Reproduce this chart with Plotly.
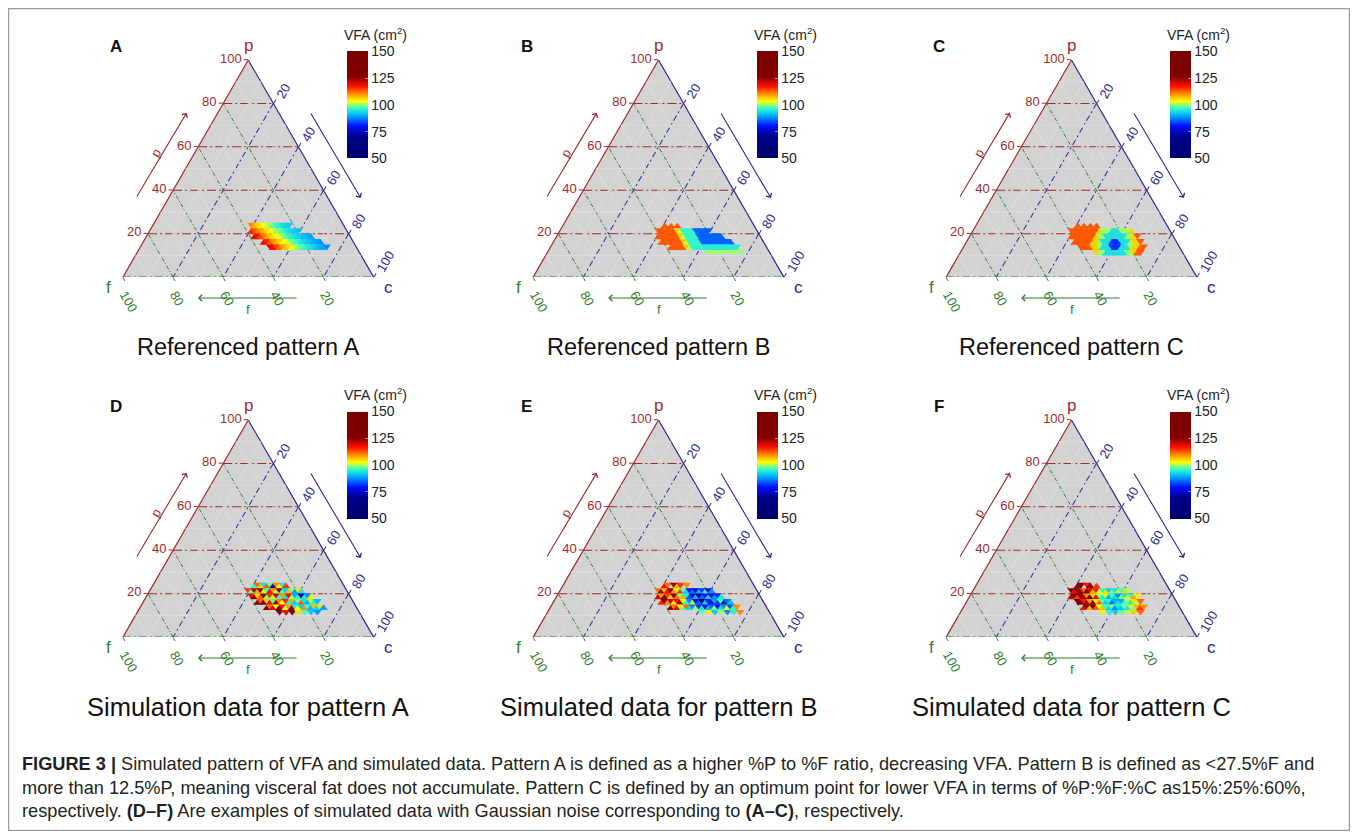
import plotly.graph_objects as go

# page geometry (the html body adds an 8px margin, so figure pixel = screen pixel - 8)
OFF = 8
FW, FH = 1350, 831

PANEL_LETTERS = ["A", "B", "C", "D", "E", "F"]
PANEL_TITLES = ["Referenced pattern A", "Referenced pattern B", "Referenced pattern C",
                "Simulation data for pattern A", "Simulated data for pattern B",
                "Simulated data for pattern C"]
AXIS_TICKS = [20, 40, 60, 80, 100]
CBAR_TICKS = [50, 75, 100, 125, 150]
VFA_RANGE = [50, 150]

# VFA of each 2.5% triangular cell: row index (p band) -> (first column, values left to right)
ROWS_A = {
    9: (1, [110, 108, 106, 104, 103, 101, 100, 98, 96, 95, 94, 93, 92]),
    8: (1, [116, 113, 111, 109, 107, 105, 104, 102, 100, 99, 97, 95, 94, 93, 92, 91]),
    7: (2, [120, 117, 114, 111, 109, 107, 105, 103, 102, 100, 98, 96, 95, 94, 93, 92, 91, 90, 89]),
    6: (5, [119, 116, 113, 110, 108, 106, 104, 103, 101, 99, 97, 96, 94, 93, 92, 91, 90, 89, 88]),
    5: (7, [120, 118, 115, 112, 109, 107, 105, 103, 101, 99, 98, 96, 95, 94, 93, 91, 90, 89, 88]),
}
ROWS_B = {
    9: (2, [113, None, 113, None, 113]),
    8: (0, [113, 113, 113, 113, 113, 113, 106, 101, 96, 96, 96, 96, 85, 85, 85, 85, 85]),
    7: (0, [113, 113, 113, 113, 113, 113, 113, 106, 101, 96, 96, 96, 96, 85, 85, 85, 85, 85, 85, 85, 85]),
    6: (1, [113, 113, 113, 113, 113, 113, 113, 106, 101, 96, 96, 96, 96, 85, 85, 85, 85, 85, 85, 85, 85, 85, 85]),
    5: (4, [113, 113, 113, 113, 113, 106, 101, 96, 96, 96, 96, 95, 95, 95, 95, 95, 95, 95, 95, 95, 95, 95]),
    4: (16, [100, None, 100, None, 100, None, 100, None, 100, None, 100]),
}
ROWS_C = {
    9: (2, [113, None, 113, None, 113, None, 113]),
    8: (0, [113, 113, 113, 113, 113, 113, 113, 113, 113, 106, 100, 100, 100, 94, 94, 94, 100, 100, 100, 106]),
    7: (0, [113, 113, 113, 113, 113, 113, 113, 113, 106, 100, 100, 94, 94, 94, 94, 94, 94, 94, 100, 100, 106, 113]),
    6: (1, [113, 113, 113, 113, 113, 113, 106, 106, 100, 94, 94, 94, 82, 82, 82, 94, 94, 94, 100, 106, 106, 113]),
    5: (3, [113, 113, 113, 113, 106, 106, 100, 94, 94, 94, 82, 82, 82, 94, 94, 94, 100, 106, 106, 113, 113]),
    4: (8, [106, 100, 100, 94, 94, 94, 94, 94, 94, 94, 100, 100, 106, 113, 113]),
}
ROWS_D = {
    9: (1, [None, 96, 112, 106, 94, 113, 98, 72, 110, 104, 95, 115, None]),
    8: (0, [115, 98, 122, 108, 130, 104, 96, 118, 110, 101, 125, 97, 92, 107, 99, 88, 105, 94]),
    7: (1, [118, 135, 106, 112, 127, 99, 115, 104, 121, 96, 109, 93, 118, 100, 90, 97, 72, 95, 88, 104]),
    6: (3, [128, 113, 140, 107, 119, 98, 124, 110, 103, 116, 95, 108, 92, 99, 113, 94, 89, 100, 96, 91]),
    5: (6, [135, 112, 120, 104, 138, 117, 101, 109, 126, 95, 103, 92, 110, 97, 90, 107, 93, 105, 89]),
    4: (9, [None, 130, None, 118, None, 138, None, 105, None, 97, None, 92, None, 88, None]),
}
ROWS_E = {
    9: (1, [None, 118, 112, None, 125, 108, 115, None, 110]),
    8: (0, [112, 125, 108, 118, 132, 110, 104, 115, 98, 92, 80, 86, 75, 90, 82, 96, 78, 88]),
    7: (0, [120, 109, 128, 114, 106, 135, 112, 99, 108, 95, 84, 77, 90, 72, 85, 80, 93, 76, 88, 82, 95]),
    6: (1, [116, 130, 110, 122, 105, 118, 127, 103, 96, 88, 101, 79, 85, 70, 92, 81, 76, 89, 83, 97, 74, 86, 91]),
    5: (4, [125, 111, 119, 104, 98, 112, 93, 87, 100, 82, 95, 78, 90, 85, 99, 80, 94, 88, 102, 84, 96, 110]),
    4: (14, [98, None, 104, None, 92, None, 100, None, 88, None, 95, None, 110]),
}
ROWS_F = {
    9: (1, [None, 125, 140, None, 118, 132, None, 115, None]),
    8: (0, [135, 118, 142, 126, 113, 138, 120, 108, 117, 102, 96, 105, 92, 99, 94, 101, 97, 106, 100]),
    7: (0, [122, 140, 115, 131, 124, 110, 136, 106, 119, 100, 95, 103, 90, 97, 93, 88, 99, 94, 102, 96, 108, 104]),
    6: (2, [128, 145, 117, 123, 109, 133, 104, 112, 98, 92, 96, 86, 90, 94, 89, 97, 100, 95, 105, 101, 112]),
    5: (4, [119, 126, 108, 138, 113, 102, 107, 97, 93, 99, 88, 95, 91, 98, 94, 103, 99, 108, 115, 110]),
    4: (9, [None, 104, None, 96, None, 92, None, 98, None, 101, None, 106, None, 112]),
}
PANEL_ROWS = [ROWS_A, ROWS_B, ROWS_C, ROWS_D, ROWS_E, ROWS_F]

CAPTION = [
    "<b>FIGURE 3 |</b> Simulated pattern of VFA and simulated data. Pattern A is defined as a higher %P to %F ratio, decreasing VFA. Pattern B is defined as &lt;27.5%F and",
    "more than 12.5%P, meaning visceral fat does not accumulate. Pattern C is defined by an optimum point for lower VFA in terms of %P:%F:%C as15%:25%:60%,",
    "respectively. <b>(D\u2013F)</b> Are examples of simulated data with Gaussian noise corresponding to <b>(A\u2013C)</b>, respectively.",
]

# ---- style ----
FONT = "Liberation Sans"
P_COL, F_COL, C_COL = "#9c2b2b", "#2e7d2e", "#2a2a8c"
BG = "#d3d3d3"
FAINT = "#e0e0e0"
JET = [[0.0, "#00006e"], [0.2, "#00008a"], [0.3, "#0010ff"], [0.4, "#00b4ff"],
       [0.47, "#3cffc3"], [0.53, "#ffff00"], [0.6, "#ff8c00"], [0.67, "#ff1000"],
       [0.76, "#820000"], [1.0, "#7a0000"]]

SIDE = 250.7
TRI_H = SIDE * 3 ** 0.5 / 2
APEX_X = [248.3, 658.5, 1071.5]   # screen pixels
APEX_Y = [60, 420]
TITLE_SIZE = [23.5, 25.5]
STEP = 2.5
NSTEP = 40


def px(x):
    return (x - OFF) / FW


def py(y):
    return 1 - (y - OFF) / FH


def cell(a, k):
    if (a + k) % 2:
        b = (NSTEP - 1 - a - k) // 2
        p, f, sym = (a + 1 / 3) * STEP, (b + 1 / 3) * STEP, "triangle-up"
    else:
        b = (NSTEP - 2 - a - k) // 2
        p, f, sym = (a + 2 / 3) * STEP, (b + 2 / 3) * STEP, "triangle-down"
    return p, f, 100 - p - f, sym


def ann(x, y, text, size, color, **kw):
    d = dict(x=px(x), y=py(y), xref="paper", yref="paper", text=text, showarrow=False,
             xanchor="center", yanchor="middle",
             font=dict(size=size, family=FONT, color=color))
    d.update(kw)
    return d


def axis(color, tickangle, dash, line=True):
    return dict(
        title=dict(text=""),
        tickmode="array", tickvals=AXIS_TICKS, ticktext=[str(v) for v in AXIS_TICKS],
        tickfont=dict(color=color, size=13, family=FONT), tickangle=tickangle,
        ticks="outside", ticklen=4, tickcolor=color,
        showline=line, linecolor=color, linewidth=1.2,
        showgrid=True, gridcolor=color, gridwidth=1.1, griddash=dash,
        layer="below traces", min=0,
    )


fig = go.Figure()
layout = {}
annotations = []

for i, rows in enumerate(PANEL_ROWS):
    col, row = i % 3, i // 3
    ax_, ay_ = APEX_X[col], APEX_Y[row]
    tid = "ternary" if i == 0 else f"ternary{i + 1}"
    cid = "coloraxis" if i == 0 else f"coloraxis{i + 1}"

    layout[tid] = dict(
        domain=dict(x=[px(ax_ - SIDE / 2), px(ax_ + SIDE / 2)],
                    y=[py(ay_ + TRI_H), py(ay_)]),
        sum=100, bgcolor=BG,
        aaxis=axis(P_COL, 0, "9px,3px,2px,3px"),
        baxis=axis(F_COL, 60, "4px,2px,1px,2px", line=False),
        caxis=axis(C_COL, -60, "6px,3px,2px,3px"),
    )

    # faint minor grid
    for v in [10, 30, 50, 70, 90]:
        for seg in ([(v, 0, 100 - v), (v, 100 - v, 0)],
                    [(0, v, 100 - v), (100 - v, v, 0)],
                    [(0, 100 - v, v), (100 - v, 0, v)]):
            fig.add_trace(go.Scatterternary(
                a=[s[0] for s in seg], b=[s[1] for s in seg], c=[s[2] for s in seg],
                mode="lines", line=dict(color=FAINT, width=0.8), subplot=tid,
                showlegend=False, hoverinfo="skip"))
    # bottom (f) edge drawn dash-dotted like the reference
    fig.add_trace(go.Scatterternary(
        a=[0, 0], b=[100, 0], c=[0, 100], mode="lines", subplot=tid,
        line=dict(color=F_COL, width=1.2, dash="8px,3px,2px,3px"),
        showlegend=False, hoverinfo="skip"))

    A, B, C, S, V = [], [], [], [], []
    for a, (k0, vals) in rows.items():
        for j, v in enumerate(vals):
            if v is None:
                continue
            p, f, c, sym = cell(a, k0 + j)
            A.append(p); B.append(f); C.append(c); S.append(sym); V.append(v)
    fig.add_trace(go.Scatterternary(
        a=A, b=B, c=C, mode="markers", subplot=tid, showlegend=False,
        marker=dict(symbol=S, size=7.6, color=V, coloraxis=cid, line=dict(width=0)),
    ))

    layout[cid] = dict(
        colorscale=JET, cmin=VFA_RANGE[0], cmax=VFA_RANGE[1],
        colorbar=dict(
            x=px(ax_ + 98.4), xanchor="left", y=py(ay_ + 45), yanchor="middle",
            len=107, lenmode="pixels", thickness=21, thicknessmode="pixels",
            xpad=0, ypad=0, outlinewidth=0,
            tickmode="array", tickvals=CBAR_TICKS, ticks="inside", ticklen=3,
            tickcolor="rgba(255,255,255,0.5)",
            tickfont=dict(size=14, family=FONT, color="#222"),
        ),
    )
    annotations.append(ann(ax_ + 127, ay_ - 26, "VFA (cm<sup>2</sup>)", 14, "#222"))
    annotations.append(ann(ax_ - 132, ay_ - 14, f"<b>{PANEL_LETTERS[i]}</b>", 17, "#111"))
    # corner labels
    annotations.append(ann(ax_, ay_ - 15, "p", 17, P_COL))
    annotations.append(ann(ax_ - 140, ay_ + 227, "f", 17, F_COL))
    annotations.append(ann(ax_ + 140, ay_ + 227, "c", 17, C_COL))
    # direction arrows
    for (hx, hy, tx, ty, colr) in [(-61.6, 52.7, -112.3, 138, P_COL),
                                  (112.4, 138, 61.7, 52, C_COL),
                                  (-50.3, 238, 49.7, 238, F_COL)]:
        annotations.append(dict(x=px(ax_ + hx), y=py(ay_ + hy), xref="paper", yref="paper",
                                ax=tx - hx, ay=ty - hy, showarrow=True, arrowhead=4,
                                arrowsize=1.1, arrowwidth=1.1, arrowcolor=colr, text=""))
    annotations.append(ann(ax_ - 93, ay_ + 93, "p", 13, P_COL, textangle=-60))
    annotations.append(ann(ax_, ay_ + 249, "f", 13, F_COL))
    # panel title
    annotations.append(ann(ax_, ay_ + 287, PANEL_TITLES[i], TITLE_SIZE[row], "#111"))

for j, line in enumerate(CAPTION):
    annotations.append(ann(20, 764 + 23.5 * j, line, 18.2, "#231f20", xanchor="left", align="left"))

layout["shapes"] = [dict(type="rect", xref="paper", yref="paper", x0=px(8.6), x1=px(1349.4),
                         y0=py(830.4), y1=py(8.6), line=dict(color="#9a9a9a", width=1.2))]
layout["annotations"] = annotations
fig.update_layout(width=FW, height=FH, margin=dict(l=0, r=0, t=0, b=0),
                  paper_bgcolor="white", plot_bgcolor="white", showlegend=False,
                  font=dict(family=FONT), **layout)
fig.write_html("out.html")
